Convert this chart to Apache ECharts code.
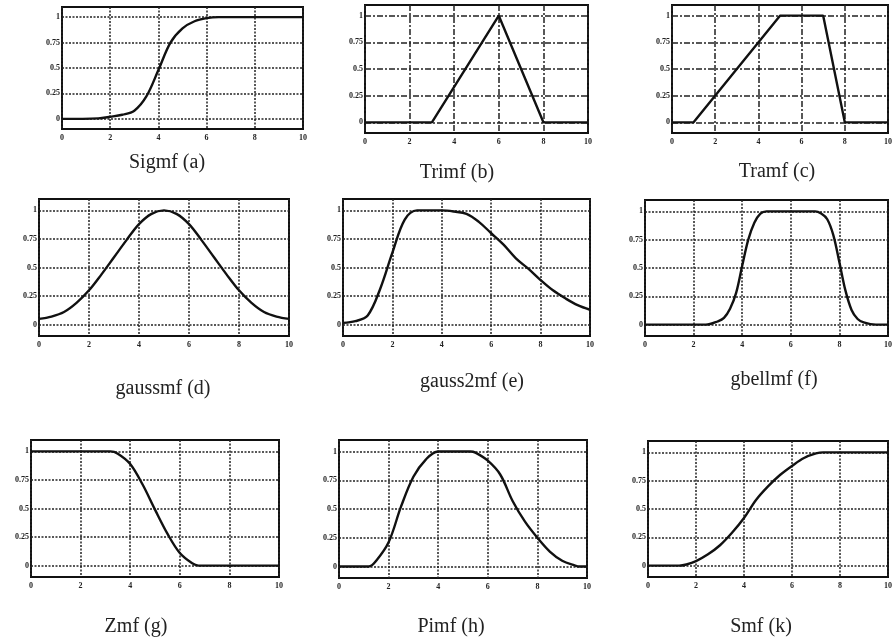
<!DOCTYPE html>
<html>
<head>
<meta charset="utf-8">
<script src="https://cdn.jsdelivr.net/npm/echarts@6/dist/echarts.min.js"></script>
<style>html,body{margin:0;padding:0;background:#fff;}#c{width:895px;height:644px;}</style>
</head>
<body>
<div id="c"></div>
<script>
// ---- data ----
const xTicks = [0, 2, 4, 6, 8, 10];
const yTicks = [0, 0.25, 0.5, 0.75, 1];
const titles = ['Sigmf (a)', 'Trimf (b)', 'Tramf (c)', 'gaussmf (d)', 'gauss2mf (e)', 'gbellmf (f)', 'Zmf (g)', 'Pimf (h)', 'Smf (k)'];

const sigmf = [[0,0],[1.5,0.005],[2,0.02],[2.5,0.04],[3,0.08],[3.5,0.22],[4,0.48],[4.5,0.75],[5,0.89],[5.5,0.96],[6,0.99],[6.5,1],[10,1]];
const trimf = [[0,0],[3,0],[6,1],[8,0],[10,0]];
const tramf = [[0,0],[1,0],[5,1],[7,1],[8,0],[10,0]];
const gaussmf = [[0,0.05],[0.5,0.07],[1,0.11],[1.5,0.19],[2,0.3],[2.5,0.44],[3,0.59],[3.5,0.74],[4,0.88],[4.5,0.97],[5,1],[5.5,0.97],[6,0.88],[6.5,0.74],[7,0.59],[7.5,0.44],[8,0.3],[8.5,0.19],[9,0.11],[9.5,0.07],[10,0.05]];
const gauss2mf = [[0,0.015],[0.5,0.03],[1,0.08],[1.5,0.31],[2,0.63],[2.5,0.92],[3,1],[3.5,1],[4,1],[4.5,0.99],[5,0.97],[5.5,0.9],[6,0.8],[6.5,0.7],[7,0.58],[7.5,0.49],[8,0.39],[8.5,0.3],[9,0.23],[9.5,0.17],[10,0.13]];
const gbellmf = [[0,0],[2.5,0],[3,0.03],[3.25,0.06],[3.5,0.14],[3.75,0.28],[4,0.52],[4.25,0.75],[4.5,0.9],[4.75,0.98],[5,1],[7,1],[7.25,0.98],[7.5,0.93],[7.75,0.79],[8,0.55],[8.25,0.3],[8.5,0.13],[8.75,0.05],[9,0.02],[9.5,0],[10,0]];
const zmf = [[0,1],[3.2,1],[3.5,0.98],[4,0.89],[4.5,0.71],[5,0.49],[5.5,0.28],[6,0.11],[6.5,0.02],[6.75,0],[10,0]];
const pimf = [[0,0],[1.2,0],[1.5,0.05],[2,0.21],[2.5,0.52],[3,0.78],[3.5,0.93],[4,1],[5.3,1],[5.5,0.99],[6,0.92],[6.5,0.8],[7,0.57],[7.5,0.39],[8,0.25],[8.5,0.13],[9,0.05],[9.5,0.01],[9.7,0],[10,0]];
const smf = [[0,0],[1.3,0],[1.6,0.01],[2,0.04],[2.5,0.1],[3,0.18],[3.5,0.29],[4,0.42],[4.5,0.58],[5,0.7],[5.5,0.8],[6,0.88],[6.5,0.95],[7,0.99],[7.3,1],[10,1]];

const curves = [sigmf, trimf, tramf, gaussmf, gauss2mf, gbellmf, zmf, pimf, smf];
const smoothFlags = [true, false, false, true, true, true, true, true, true];

// ---- layout (pixels) ----
const layout = [
  {l:62, t:7, w:241, h:122, tx:167, ty:163},
  {l:365, t:5, w:223, h:128, tx:457, ty:173},
  {l:672, t:5, w:225, h:128, tx:777, ty:172},
  {l:39, t:199, w:250, h:137, tx:163, ty:389},
  {l:343, t:199, w:247, h:137, tx:472, ty:382},
  {l:645, t:200, w:250, h:136, tx:774, ty:380},
  {l:31, t:440, w:248, h:137, tx:136, ty:627},
  {l:339, t:440, w:248, h:138, tx:451, ty:627},
  {l:648, t:441, w:249, h:136, tx:761, ty:627}
];
const dashDot = [6, 2, 2, 2];
const dotted = [2, 1.5];
const gridDash = [dotted, dashDot, dashDot, dotted, dotted, dotted, dotted, dotted, dotted];

const grids = [], xAxes = [], yAxes = [], series = [], graphics = [];
const labelFont = {fontSize: 8, fontWeight: 'bold', color: '#222', fontFamily: 'Liberation Serif'};

layout.forEach((p, i) => {
  grids.push({left: p.l, top: p.t, width: p.w, height: p.h, show: true, borderColor: '#111', borderWidth: 2, backgroundColor: 'transparent'});
  xAxes.push({
    type: 'value', gridIndex: i, min: xTicks[0], max: xTicks[xTicks.length - 1], interval: 2,
    axisLine: {show: false}, axisTick: {show: false},
    axisLabel: Object.assign({margin: 5, showMinLabel: true, showMaxLabel: true}, labelFont),
    splitLine: {show: true, lineStyle: {color: '#222', width: 1.5, type: gridDash[i]}}
  });
  yAxes.push({
    type: 'value', gridIndex: i, min: -0.1, max: 1.1,
    axisLine: {show: false}, axisTick: {show: false},
    axisLabel: Object.assign({margin: 2, customValues: yTicks}, labelFont),
    splitLine: {show: false}
  });
  series.push({
    type: 'line', xAxisIndex: i, yAxisIndex: i, data: [], z: 1, silent: true,
    markLine: {
      silent: true, symbol: 'none', animation: false,
      label: {show: false},
      lineStyle: {color: '#222', width: 1.6, type: gridDash[i]},
      data: yTicks.map(v => ({yAxis: v}))
    }
  });
  series.push({
    type: 'line', xAxisIndex: i, yAxisIndex: i, data: curves[i], z: 5,
    showSymbol: false, smooth: smoothFlags[i] ? 0.35 : false,
    lineStyle: {color: '#111', width: 2.4}, animation: false
  });
  graphics.push({
    type: 'text', x: p.tx, y: p.ty,
    style: {text: titles[i], font: '20px "Liberation Serif"', fill: '#222',
      align: 'center', verticalAlign: 'middle', textAlign: 'center', textVerticalAlign: 'middle'}
  });
});

const chart = echarts.init(document.getElementById('c'));
chart.setOption({
  backgroundColor: '#fff',
  animation: false,
  grid: grids,
  xAxis: xAxes,
  yAxis: yAxes,
  series: series,
  graphic: graphics
});
</script>
</body>
</html>
